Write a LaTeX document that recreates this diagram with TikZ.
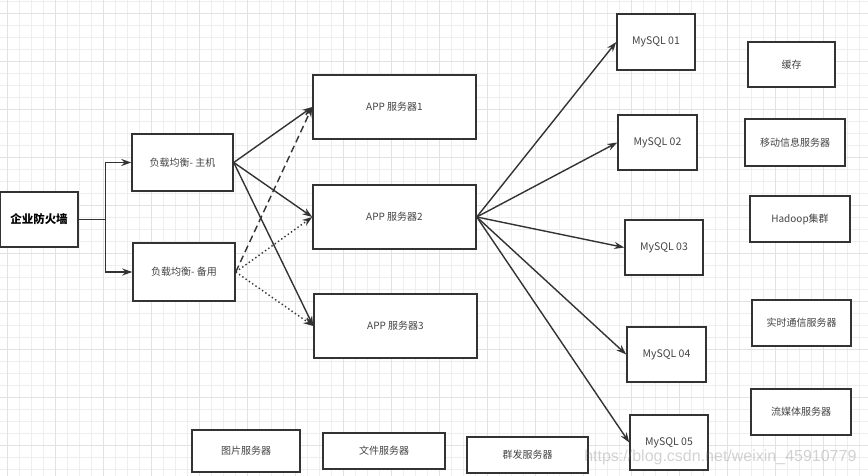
\documentclass[tikz,border=0pt]{standalone}
\usepackage{fontspec}
\setmainfont{Noto Sans CJK SC}
\setsansfont{Liberation Sans}
\usepackage{xcolor}
\usepackage{tikz}
\usetikzlibrary{arrows.meta,positioning,calc}
\definecolor{edgegray}{RGB}{51, 51, 51}
\definecolor{labelgray}{RGB}{68, 68, 68}
\definecolor{gridminor}{RGB}{238, 238, 238}
\definecolor{gridmajor}{RGB}{226, 226, 226}

\begin{document}
\begin{tikzpicture}[
    x=1pt, y=-1pt,
    box/.style={rectangle, draw=edgegray, fill=white, line width=1.5pt, text=labelgray, font=\fontsize{10}{12}\selectfont, inner sep=0pt},
    arrow/.style={line width=1.4pt, draw=edgegray, -{Stealth[length=10pt, width=7pt]}},
    dashedarrow/.style={arrow, dash pattern=on 7pt off 4pt},
    dottedarrow/.style={arrow, dash pattern=on 1.4pt off 2.6pt}
]
    \useasboundingbox (0,0) rectangle (868,476);
    \fill[white] (0,0) rectangle (868,476);
    % background grid
    \foreach \gx in {7,19,...,868} \draw[gridminor, line width=0.8pt] (\gx,0) -- (\gx,476);
    \foreach \gy in {1,13,...,476} \draw[gridminor, line width=0.8pt] (0,\gy) -- (868,\gy);
    \foreach \gx in {7,55,...,868} \draw[gridmajor, line width=0.9pt] (\gx,0) -- (\gx,476);
    \foreach \gy in {13,61,...,476} \draw[gridmajor, line width=0.9pt] (0,\gy) -- (868,\gy);

    \node[box, minimum width=78, minimum height=55, text=black, font=\fontsize{11.5}{13}\selectfont\bfseries] (fw) at (39, 219.5) {企业防火墙};

    \node[box, minimum width=101, minimum height=57] (lbm) at (182.5, 162.5) {负载均衡- 主机};
    \node[box, minimum width=102, minimum height=58] (lbb) at (184, 272) {负载均衡- 备用};

    \node[box, minimum width=163, minimum height=64] (app1) at (394.5, 107) {APP 服务器1};
    \node[box, minimum width=163, minimum height=64] (app2) at (394.5, 217) {APP 服务器2};
    \node[box, minimum width=163, minimum height=64] (app3) at (395.5, 326) {APP 服务器3};

    \node[box, minimum width=78, minimum height=56, font=\fontsize{10.5}{12}\selectfont] (db1) at (656, 42) {MySQL 01};
    \node[box, minimum width=79, minimum height=55, font=\fontsize{10.5}{12}\selectfont] (db2) at (657.5, 142.5) {MySQL 02};
    \node[box, minimum width=78, minimum height=55, font=\fontsize{10.5}{12}\selectfont] (db3) at (664, 247.5) {MySQL 03};
    \node[box, minimum width=79, minimum height=55, font=\fontsize{10.5}{12}\selectfont] (db4) at (666.5, 354.5) {MySQL 04};
    \node[box, minimum width=78, minimum height=55, font=\fontsize{10.5}{12}\selectfont] (db5) at (669, 442.5) {MySQL 05};

    \node[box, minimum width=87, minimum height=45] (cache) at (791.5, 64.5) {缓存};
    \node[box, minimum width=100, minimum height=47] (mobile) at (795, 142.5) {移动信息服务器};
    \node[box, minimum width=100, minimum height=46] (hadoop) at (800, 219) {Hadoop集群};
    \node[box, minimum width=99, minimum height=46] (rtc) at (801.5, 323) {实时通信服务器};
    \node[box, minimum width=100, minimum height=46] (media) at (801, 412) {流媒体服务器};

    \node[box, minimum width=108, minimum height=42] (img) at (246, 451) {图片服务器};
    \node[box, minimum width=122, minimum height=36] (file) at (384, 451) {文件服务器};
    \node[box, minimum width=121, minimum height=36] (mass) at (527.5, 455) {群发服务器};

    % firewall to load balancers
    \draw[arrow] (fw.east) -- ++(27,0) |- (lbm.west);
    \draw[arrow] (fw.east) -- ++(27,0) |- (lbb.west);

    % load balancers to app servers
    \draw[arrow] (lbm.east) -- (app1.west);
    \draw[arrow] (lbm.east) -- (app2.west);
    \draw[arrow] (lbm.east) -- (app3.west);
    \draw[dashedarrow] (lbb.east) -- (app1.west);
    \draw[dottedarrow] (lbb.east) -- (app2.west);
    \draw[dottedarrow] (lbb.east) -- (app3.west);

    % app server to databases
    \foreach \db in {db1,db2,db3,db4,db5}
        \draw[arrow] (app2.east) -- (\db.west);

    \node[text=gray, opacity=0.35, font=\sffamily\fontsize{16}{18}\selectfont, anchor=east] (mark) at (860, 457) {https://blog.csdn.net/weixin\_45910779};
\end{tikzpicture}
\end{document}
